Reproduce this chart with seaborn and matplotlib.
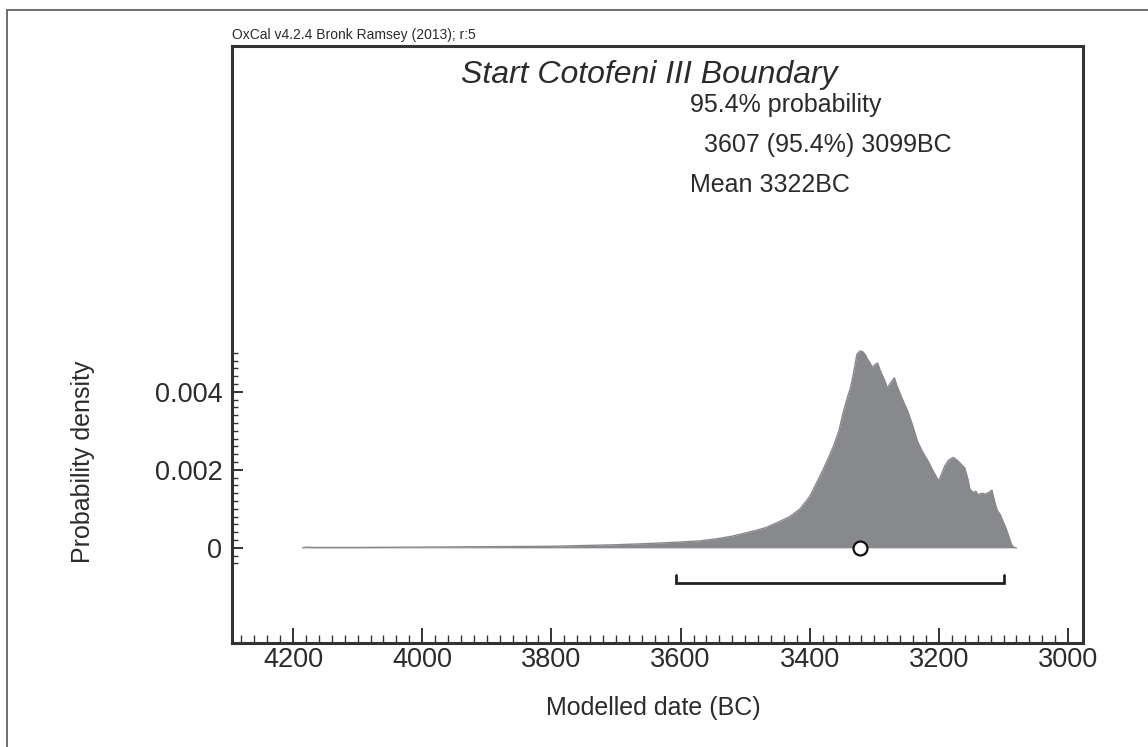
import numpy as np
import pandas as pd
import seaborn as sns
import matplotlib
matplotlib.use("Agg")
import matplotlib.pyplot as plt
from matplotlib.ticker import FixedLocator
from matplotlib.lines import Line2D

# ---- data ----
years = [4185, 4180, 4170, 4100, 4000, 3900, 3800, 3750, 3700, 3650, 3600, 3570,
         3541, 3520, 3505, 3485, 3468, 3450, 3431, 3415, 3400, 3390, 3379, 3370,
         3363, 3355, 3348, 3342, 3337, 3332, 3327, 3322, 3318, 3314, 3311, 3307,
         3303, 3299, 3295, 3291, 3287, 3283, 3280, 3276, 3272, 3269, 3265, 3260,
         3255, 3248, 3240, 3233, 3225, 3217, 3210, 3205, 3201, 3197, 3191, 3185,
         3178, 3172, 3166, 3160, 3155, 3152, 3147, 3143, 3139, 3134, 3128, 3122,
         3118, 3114, 3110, 3105, 3100, 3097, 3092, 3088, 3085, 3080]
density = [0.0, 0.00002, 0.00001, 0.00001, 0.00002, 0.00003, 0.00004, 0.00006,
           0.00008, 0.00011, 0.00015, 0.00018, 0.00024, 0.00030, 0.00036, 0.00044,
           0.00052, 0.00065, 0.00080, 0.00100, 0.00132, 0.00165, 0.00202, 0.00235,
           0.00262, 0.00300, 0.00349, 0.00385, 0.00410, 0.00450, 0.00497, 0.00505,
           0.00503, 0.00495, 0.00485, 0.00475, 0.00462, 0.00470, 0.00474, 0.00455,
           0.00440, 0.00425, 0.00410, 0.00420, 0.00430, 0.00436, 0.00415, 0.00395,
           0.00375, 0.00349, 0.00310, 0.00272, 0.00245, 0.00223, 0.00200, 0.00185,
           0.00172, 0.00185, 0.00210, 0.00225, 0.00232, 0.00225, 0.00215, 0.00205,
           0.00175, 0.00150, 0.00142, 0.00145, 0.00136, 0.00140, 0.00138, 0.00143,
           0.00148, 0.00120, 0.00097, 0.00085, 0.00065, 0.00054, 0.00030, 0.00010,
           0.00002, 0.0]
range_start = 3607
range_end = 3099
mean_year = 3322
x_ticks = [4200, 4000, 3800, 3600, 3400, 3200, 3000]
y_ticks = [0, 0.002, 0.004]
y_tick_labels = ["0", "0.002", "0.004"]

title = "Start Cotofeni III Boundary"
header = "OxCal v4.2.4 Bronk Ramsey (2013); r:5"
info_lines = ["95.4% probability", "  3607 (95.4%) 3099BC", "Mean 3322BC"]

df = pd.DataFrame({"year": years, "density": density})

# ---- style ----
sns.set_theme(style="white")
plt.rcParams["font.family"] = ["Liberation Sans", "DejaVu Sans"]
text_color = "#2b2b2b"
fill_color = "#88898c"
spine_color = "#333333"

W, H = 1148, 747
fig = plt.figure(figsize=(W / 100, H / 100), dpi=100)
ax_l, ax_r, ax_t, ax_b = 232, 1083, 46, 643
ax = fig.add_axes([ax_l / W, 1 - ax_b / H, (ax_r - ax_l) / W, (ax_b - ax_t) / H])

ax.fill_between(df["year"], 0, df["density"], color=fill_color, linewidth=0, zorder=2)
sns.lineplot(data=df, x="year", y="density", ax=ax, color=fill_color,
             linewidth=1.0, sort=False, zorder=3)

# range bracket
br_y = -0.0009
br_h = 0.0002
ax.plot([range_start, range_start, range_end, range_end],
        [br_y + br_h, br_y, br_y, br_y + br_h], color="#222222", linewidth=2.0,
        solid_joinstyle="miter", zorder=4)

# mean marker
ax.plot([mean_year], [0], marker="o", markersize=10, markerfacecolor="white",
        markeredgecolor="#111111", markeredgewidth=1.6, zorder=5)

ax.set_xlim(4294.5, 2977)
ax.set_ylim(-0.00244, 0.01287)

ax.set_xticks(x_ticks)
ax.set_xticklabels([str(v) for v in x_ticks])
ax.xaxis.set_minor_locator(FixedLocator(list(range(4280, 2980, -20))))
ax.set_yticks(y_ticks)
ax.set_yticklabels(y_tick_labels)
ax.yaxis.set_minor_locator(FixedLocator([round(v, 5) for v in np.arange(-0.0004, 0.00501, 0.0002)]))

ax.tick_params(axis="x", which="major", direction="in", length=11, width=1.4,
               color=spine_color, labelsize=19.5, labelcolor=text_color, pad=3, bottom=True)
ax.tick_params(axis="x", which="minor", direction="in", length=5.5, width=1.0,
               color=spine_color, bottom=True)
ax.tick_params(axis="y", which="major", direction="in", length=8, width=1.4,
               color=spine_color, labelsize=19.5, labelcolor=text_color, pad=7, left=True)
ax.tick_params(axis="y", which="minor", direction="in", length=4.5, width=1.0,
               color=spine_color, left=True)

for s in ax.spines.values():
    s.set_visible(True)
    s.set_color(spine_color)
    s.set_linewidth(2.2)

ax.set_xlabel("Modelled date (BC)", fontsize=18, color=text_color)
ax.xaxis.set_label_coords((653 - ax_l) / (ax_r - ax_l), -(696 - ax_b) / (ax_b - ax_t))
ax.set_ylabel("Probability density", fontsize=18, color=text_color)
ax.yaxis.set_label_coords(-(ax_l - 95) / (ax_r - ax_l), (ax_b - 462) / (ax_b - ax_t))

def ay(py):
    return 1 - (py - ax_t) / (ax_b - ax_t)

def axx(px):
    return (px - ax_l) / (ax_r - ax_l)

ax.text(axx(649), ay(75), title, transform=ax.transAxes, ha="center", va="center",
        fontsize=23, fontstyle="italic", color=text_color)
ax.text(axx(690), ay(105), info_lines[0], transform=ax.transAxes, ha="left", va="center",
        fontsize=18, color=text_color)
ax.text(axx(690), ay(145), info_lines[1], transform=ax.transAxes, ha="left", va="center",
        fontsize=18, color=text_color)
ax.text(axx(690), ay(185), info_lines[2], transform=ax.transAxes, ha="left", va="center",
        fontsize=18, color=text_color)
ax.text(0.0, 1.006, header, transform=ax.transAxes, ha="left", va="bottom",
        fontsize=10, color=text_color)

# outer frame (top and left edges visible)
fig.add_artist(Line2D([7 / W, 1.0], [1 - 10 / H, 1 - 10 / H], color="#555555",
                      linewidth=1.2, transform=fig.transFigure))
fig.add_artist(Line2D([7 / W, 7 / W], [0.0, 1 - 10 / H], color="#555555",
                      linewidth=1.2, transform=fig.transFigure))

fig.savefig("out.png", dpi=100, facecolor="white")
